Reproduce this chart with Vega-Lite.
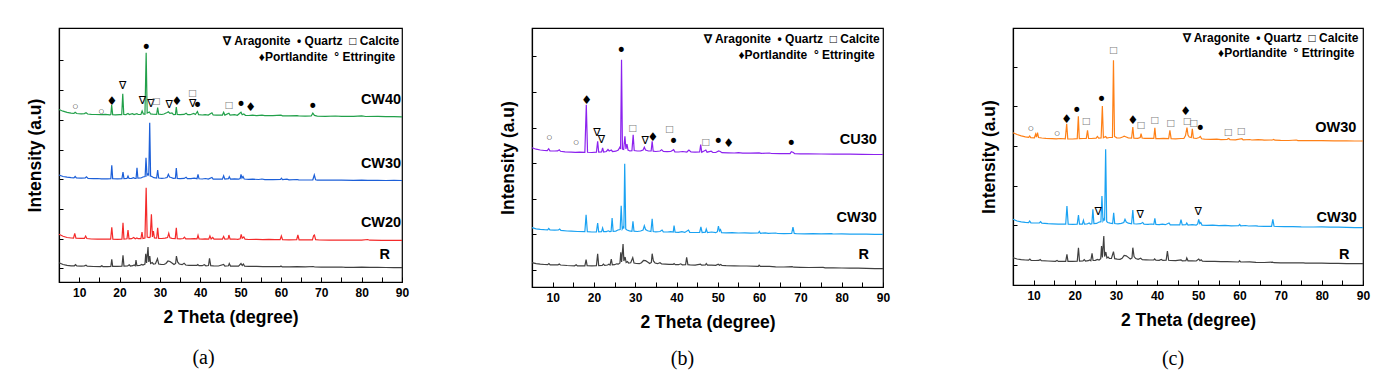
{
"$schema": "https://vega.github.io/schema/vega-lite/v6.json",
"background": "white",
"padding": {"left": 25, "top": 27, "right": 0, "bottom": 0},
"spacing": 88,
"config": {
 "view": {"stroke": "#000", "strokeWidth": 1.2},
 "axis": {"grid": false, "domainColor": "#000", "domainWidth": 1.2, "tickColor": "#000", "tickWidth": 1, "labelFont": "Liberation Sans", "labelFontWeight": "bold", "labelFontSize": 12, "labelColor": "#000", "titleFont": "Liberation Sans", "titleFontWeight": "bold", "titleFontSize": 17.5, "titleColor": "#000"},
 "text": {"font": "Liberation Sans"},
 "line": {"strokeWidth": 1.2}
},
"datasets": {
 "a_CW40": [{"x":5,"y":173.5},{"x":6,"y":171.8},{"x":7,"y":170.6},{"x":8,"y":169.8},{"x":8.7,"y":169.6},{"x":9,"y":170.8},{"x":9.4,"y":169.5},{"x":10.5,"y":169.2},{"x":11.3,"y":169.4},{"x":11.7,"y":170.3},{"x":12.1,"y":169},{"x":13,"y":168.7},{"x":14,"y":168.5},{"x":15.5,"y":168.3},{"x":16.5,"y":168.6},{"x":17.6,"y":168.2},{"x":17.85,"y":168.4},{"x":18.05,"y":178},{"x":18.3,"y":168.4},{"x":19,"y":168.2},{"x":20,"y":168.3},{"x":20.55,"y":168.4},{"x":20.8,"y":189.3},{"x":21.05,"y":168.6},{"x":21.6,"y":168.4},{"x":22.1,"y":169.6},{"x":22.4,"y":168.5},{"x":23.2,"y":169.3},{"x":23.6,"y":168.4},{"x":24.3,"y":169.4},{"x":24.6,"y":168.5},{"x":25.3,"y":168.6},{"x":25.6,"y":172},{"x":25.9,"y":169},{"x":26.3,"y":168.8},{"x":26.6,"y":230.3},{"x":26.85,"y":170},{"x":27.4,"y":171},{"x":27.7,"y":169},{"x":28.2,"y":168.8},{"x":29.2,"y":168.6},{"x":29.45,"y":175.5},{"x":29.7,"y":168.8},{"x":30.5,"y":168.5},{"x":31,"y":169},{"x":31.8,"y":170.5},{"x":32.1,"y":171.2},{"x":32.5,"y":169.6},{"x":33,"y":170},{"x":33.4,"y":168.4},{"x":33.85,"y":168.5},{"x":34.07,"y":176},{"x":34.3,"y":168.5},{"x":35,"y":168.3},{"x":36,"y":168.6},{"x":36.5,"y":169.8},{"x":36.9,"y":168.4},{"x":37.5,"y":168.3},{"x":38.4,"y":169.6},{"x":38.8,"y":168.5},{"x":39.3,"y":171.5},{"x":39.6,"y":168.4},{"x":40.5,"y":168},{"x":41.2,"y":168.4},{"x":42,"y":167.9},{"x":42.9,"y":170.2},{"x":43.2,"y":168},{"x":44,"y":167.8},{"x":45.5,"y":167.9},{"x":45.8,"y":170.8},{"x":46.1,"y":167.9},{"x":47.1,"y":169.8},{"x":47.4,"y":167.9},{"x":48.5,"y":168.3},{"x":49.2,"y":167.7},{"x":50.1,"y":170.8},{"x":50.4,"y":168.2},{"x":50.8,"y":169},{"x":51.2,"y":167.7},{"x":52,"y":167.5},{"x":53,"y":167.8},{"x":54,"y":167.4},{"x":55.3,"y":167.8},{"x":56,"y":167.3},{"x":58,"y":167.3},{"x":60,"y":167.8},{"x":60.4,"y":167.2},{"x":62,"y":167.1},{"x":64,"y":167.4},{"x":64.5,"y":167},{"x":66,"y":166.9},{"x":67.5,"y":167},{"x":67.9,"y":169.8},{"x":68.3,"y":167.6},{"x":69,"y":166.9},{"x":71,"y":166.7},{"x":73.5,"y":167},{"x":75,"y":166.6},{"x":78,"y":166.6},{"x":80,"y":167.1},{"x":81,"y":166.5},{"x":84,"y":166.6},{"x":86,"y":166.3},{"x":88,"y":166.3},{"x":90,"y":166.2}],
 "a_CW30": [{"x":5,"y":108},{"x":6,"y":106.5},{"x":7,"y":105.8},{"x":8,"y":105.3},{"x":8.7,"y":105.2},{"x":9,"y":106.5},{"x":9.3,"y":105},{"x":10.5,"y":104.8},{"x":11.5,"y":105},{"x":11.8,"y":106.2},{"x":12.2,"y":104.6},{"x":13.5,"y":104.3},{"x":14.5,"y":104.5},{"x":15.5,"y":104.2},{"x":17,"y":104.2},{"x":17.85,"y":104.3},{"x":18.08,"y":117.7},{"x":18.3,"y":104.4},{"x":19.5,"y":104.2},{"x":20.6,"y":104.3},{"x":20.86,"y":111},{"x":21.1,"y":104.4},{"x":21.85,"y":104.5},{"x":22.1,"y":107},{"x":22.35,"y":104.5},{"x":23,"y":104.6},{"x":23.5,"y":105.3},{"x":23.8,"y":104.5},{"x":24.1,"y":104.6},{"x":24.33,"y":115.3},{"x":24.55,"y":104.8},{"x":25.3,"y":105},{"x":25.8,"y":106},{"x":26.35,"y":106.5},{"x":26.56,"y":125.3},{"x":26.8,"y":107.5},{"x":27.05,"y":109},{"x":27.25,"y":108},{"x":27.48,"y":160.3},{"x":27.7,"y":107},{"x":28,"y":106.5},{"x":28.5,"y":105.3},{"x":29.2,"y":105},{"x":29.45,"y":113},{"x":29.7,"y":105},{"x":30.5,"y":104.6},{"x":31.3,"y":105},{"x":31.8,"y":105.5},{"x":32.1,"y":108.7},{"x":32.4,"y":106},{"x":32.8,"y":105.5},{"x":33.3,"y":104.6},{"x":33.85,"y":104.8},{"x":34.07,"y":115},{"x":34.3,"y":104.6},{"x":35,"y":104.3},{"x":36,"y":104.6},{"x":36.5,"y":105.8},{"x":36.8,"y":104.4},{"x":37.7,"y":104.3},{"x":38.5,"y":104.8},{"x":39.2,"y":104.3},{"x":39.45,"y":108.7},{"x":39.7,"y":104.2},{"x":40.5,"y":104},{"x":41.3,"y":104.5},{"x":42,"y":103.9},{"x":42.9,"y":105.5},{"x":43.2,"y":103.9},{"x":44,"y":103.8},{"x":45.5,"y":103.9},{"x":45.8,"y":107.3},{"x":46.1,"y":103.9},{"x":47,"y":104.3},{"x":47.2,"y":106.3},{"x":47.5,"y":103.8},{"x":48.5,"y":104.2},{"x":49.5,"y":103.8},{"x":49.9,"y":104.5},{"x":50.1,"y":108.7},{"x":50.35,"y":105},{"x":50.6,"y":106.5},{"x":50.9,"y":104},{"x":52,"y":103.6},{"x":53,"y":103.8},{"x":54.5,"y":103.5},{"x":55.3,"y":104},{"x":56,"y":103.4},{"x":58,"y":103.4},{"x":59.9,"y":103.5},{"x":60.1,"y":104.8},{"x":60.4,"y":103.3},{"x":61.5,"y":103.8},{"x":62,"y":103.2},{"x":64,"y":103.5},{"x":64.4,"y":103.1},{"x":66,"y":103},{"x":67.9,"y":103.2},{"x":68.27,"y":108},{"x":68.6,"y":103.2},{"x":69,"y":102.9},{"x":71,"y":102.8},{"x":73,"y":103},{"x":75,"y":102.8},{"x":78,"y":102.7},{"x":80,"y":102.9},{"x":81.5,"y":102.7},{"x":84,"y":102.7},{"x":86,"y":102.5},{"x":88,"y":102.6},{"x":90,"y":102.5}],
 "a_CW20": [{"x":5,"y":48.7},{"x":6,"y":46.8},{"x":7,"y":45.5},{"x":8,"y":45},{"x":8.6,"y":44.8},{"x":8.9,"y":49.7},{"x":9.2,"y":44.9},{"x":10.5,"y":44.6},{"x":11.3,"y":44.6},{"x":11.6,"y":47},{"x":11.9,"y":44.5},{"x":13,"y":44},{"x":14.5,"y":43.8},{"x":16,"y":43.9},{"x":17.8,"y":43.8},{"x":18.08,"y":55.7},{"x":18.35,"y":43.9},{"x":19.5,"y":43.7},{"x":20.6,"y":43.9},{"x":20.86,"y":60.3},{"x":21.1,"y":44},{"x":21.85,"y":44.2},{"x":22.1,"y":53},{"x":22.35,"y":44.2},{"x":23,"y":44.3},{"x":23.5,"y":45.5},{"x":23.9,"y":44.3},{"x":24.3,"y":45},{"x":24.6,"y":44.3},{"x":25.3,"y":44.4},{"x":25.57,"y":51},{"x":25.8,"y":44.5},{"x":26.3,"y":45},{"x":26.6,"y":95.3},{"x":26.85,"y":46},{"x":27.3,"y":45.5},{"x":27.6,"y":46},{"x":27.9,"y":68.7},{"x":28.15,"y":46},{"x":28.4,"y":52},{"x":28.65,"y":45},{"x":29.2,"y":44.8},{"x":29.45,"y":55.3},{"x":29.7,"y":44.6},{"x":30.5,"y":44.5},{"x":31.3,"y":44.8},{"x":31.9,"y":45.4},{"x":32.2,"y":49.7},{"x":32.5,"y":45.2},{"x":33,"y":44.6},{"x":33.8,"y":44.4},{"x":34.07,"y":55.3},{"x":34.3,"y":44.4},{"x":35,"y":44.2},{"x":35.8,"y":44.5},{"x":36.1,"y":45.8},{"x":36.4,"y":44.2},{"x":37.5,"y":44.2},{"x":38.5,"y":44.3},{"x":39.2,"y":44.1},{"x":39.45,"y":47.7},{"x":39.7,"y":44},{"x":40.5,"y":43.9},{"x":41.2,"y":44.2},{"x":42.1,"y":43.9},{"x":42.4,"y":47},{"x":42.7,"y":44},{"x":43.1,"y":45.5},{"x":43.4,"y":43.9},{"x":44.3,"y":43.8},{"x":45.5,"y":43.9},{"x":45.8,"y":46.5},{"x":46.1,"y":43.8},{"x":46.9,"y":44},{"x":47.1,"y":48},{"x":47.4,"y":43.8},{"x":48.5,"y":44},{"x":49.3,"y":43.7},{"x":49.9,"y":44.2},{"x":50.15,"y":48.7},{"x":50.4,"y":44.8},{"x":50.8,"y":46},{"x":51.1,"y":43.8},{"x":52,"y":43.5},{"x":54,"y":43.6},{"x":55.5,"y":43.4},{"x":57,"y":43.6},{"x":58.5,"y":43.3},{"x":59.8,"y":43.3},{"x":60.1,"y":47},{"x":60.4,"y":43.3},{"x":62,"y":43.2},{"x":63.9,"y":43.3},{"x":64.2,"y":48},{"x":64.5,"y":43.2},{"x":66,"y":43.1},{"x":67.8,"y":43.2},{"x":68.1,"y":47.4},{"x":68.3,"y":48},{"x":68.6,"y":43.3},{"x":69.5,"y":43},{"x":72,"y":42.9},{"x":75,"y":43},{"x":77,"y":42.8},{"x":80,"y":42.8},{"x":81.5,"y":43.5},{"x":82,"y":42.8},{"x":85,"y":42.7},{"x":88,"y":42.6},{"x":90,"y":42.6}],
 "a_R": [{"x":5,"y":20.3},{"x":6,"y":18.5},{"x":7,"y":17.6},{"x":8,"y":17.2},{"x":8.8,"y":17.2},{"x":9.1,"y":18.3},{"x":9.4,"y":17},{"x":10.5,"y":16.9},{"x":11.3,"y":17.1},{"x":11.7,"y":17.8},{"x":12,"y":16.8},{"x":13.5,"y":16.5},{"x":15.3,"y":16.4},{"x":15.6,"y":17.3},{"x":15.9,"y":16.4},{"x":17,"y":16.4},{"x":17.85,"y":16.6},{"x":18.08,"y":23.7},{"x":18.3,"y":16.7},{"x":19.5,"y":16.6},{"x":20.6,"y":16.8},{"x":20.86,"y":27.7},{"x":21.1,"y":16.9},{"x":22,"y":17},{"x":22.4,"y":18.2},{"x":22.7,"y":17},{"x":23.3,"y":17.3},{"x":23.6,"y":18},{"x":23.9,"y":17.2},{"x":24.08,"y":23},{"x":24.3,"y":17.3},{"x":25,"y":17.5},{"x":25.5,"y":18.5},{"x":25.8,"y":18},{"x":26.3,"y":19},{"x":26.5,"y":29.3},{"x":26.7,"y":20},{"x":27.06,"y":36},{"x":27.25,"y":21},{"x":27.5,"y":27},{"x":27.7,"y":19.5},{"x":28.1,"y":20.5},{"x":28.4,"y":19},{"x":28.9,"y":19.2},{"x":29.4,"y":24.3},{"x":29.7,"y":19},{"x":30.3,"y":18.6},{"x":31,"y":18.5},{"x":31.5,"y":19.5},{"x":32,"y":22},{"x":32.5,"y":21.5},{"x":33,"y":20},{"x":33.5,"y":18.5},{"x":33.9,"y":19.5},{"x":34.1,"y":27},{"x":34.4,"y":21},{"x":34.8,"y":19},{"x":35.5,"y":18.3},{"x":36,"y":19.8},{"x":36.4,"y":18},{"x":37.2,"y":17.7},{"x":38,"y":17.6},{"x":39.2,"y":17.7},{"x":39.4,"y":18.5},{"x":39.7,"y":17.4},{"x":40.5,"y":17.3},{"x":41,"y":18.2},{"x":41.4,"y":17.2},{"x":42.05,"y":17.5},{"x":42.3,"y":24.7},{"x":42.6,"y":17.4},{"x":43.3,"y":17.2},{"x":44.5,"y":17},{"x":45.8,"y":18.5},{"x":46.1,"y":16.9},{"x":47,"y":17.2},{"x":47.2,"y":19.5},{"x":47.5,"y":16.9},{"x":48.5,"y":17},{"x":49.5,"y":16.8},{"x":50.1,"y":19.5},{"x":50.4,"y":17.5},{"x":50.7,"y":19},{"x":51,"y":16.8},{"x":52,"y":16.6},{"x":54,"y":16.7},{"x":55.5,"y":16.4},{"x":57,"y":16.5},{"x":59.8,"y":16.3},{"x":60,"y":17},{"x":60.3,"y":16.2},{"x":62,"y":16.2},{"x":64,"y":16.3},{"x":66,"y":16.1},{"x":68,"y":16.5},{"x":68.4,"y":16},{"x":70,"y":15.9},{"x":72,"y":15.8},{"x":75,"y":16},{"x":76,"y":15.7},{"x":78,"y":15.7},{"x":80,"y":15.8},{"x":82,"y":15.6},{"x":84,"y":15.6},{"x":86,"y":15.5},{"x":88,"y":15.4},{"x":90,"y":15.3}],
 "b_CU30": [{"x":5,"y":139.3},{"x":6,"y":137.8},{"x":7,"y":137},{"x":8,"y":136.5},{"x":8.7,"y":136.4},{"x":9.04,"y":138.3},{"x":9.35,"y":136.2},{"x":10.5,"y":136},{"x":11.2,"y":136.1},{"x":11.6,"y":137.2},{"x":11.9,"y":135.7},{"x":13,"y":135.2},{"x":14.5,"y":134.8},{"x":15.5,"y":134.6},{"x":16.5,"y":134.8},{"x":17.8,"y":134.6},{"x":18.15,"y":182.3},{"x":18.45,"y":134.7},{"x":19.5,"y":134.5},{"x":20.6,"y":134.8},{"x":20.9,"y":145.7},{"x":21.15,"y":134.8},{"x":21.85,"y":135},{"x":22.1,"y":139},{"x":22.35,"y":135},{"x":23,"y":135.5},{"x":23.4,"y":137.5},{"x":23.7,"y":136},{"x":24.2,"y":137},{"x":24.5,"y":135.5},{"x":25.3,"y":135.8},{"x":25.9,"y":137},{"x":26.3,"y":140},{"x":26.45,"y":138},{"x":26.68,"y":227.3},{"x":26.9,"y":138},{"x":27.2,"y":137.5},{"x":27.5,"y":150.7},{"x":27.75,"y":138},{"x":28,"y":143},{"x":28.25,"y":137},{"x":28.7,"y":136},{"x":29.2,"y":136.3},{"x":29.5,"y":152.3},{"x":29.75,"y":136.5},{"x":30.5,"y":136},{"x":31.3,"y":136.2},{"x":31.9,"y":137},{"x":32.2,"y":139.7},{"x":32.5,"y":137},{"x":33.2,"y":136},{"x":33.85,"y":136},{"x":34.1,"y":145.7},{"x":34.35,"y":135.8},{"x":35,"y":135.5},{"x":36,"y":136},{"x":36.4,"y":137.3},{"x":36.8,"y":135.6},{"x":37.7,"y":135.3},{"x":38.6,"y":135.5},{"x":39.3,"y":137.3},{"x":39.6,"y":135.2},{"x":40.5,"y":135},{"x":41.5,"y":135.5},{"x":42.5,"y":135},{"x":43,"y":137},{"x":43.5,"y":135},{"x":44.5,"y":134.8},{"x":45.6,"y":135},{"x":45.85,"y":142.3},{"x":46.1,"y":134.8},{"x":47.1,"y":137},{"x":47.4,"y":134.8},{"x":48.4,"y":135.8},{"x":48.8,"y":134.6},{"x":49.5,"y":134.5},{"x":50.2,"y":136},{"x":50.6,"y":135.5},{"x":51,"y":134.3},{"x":52.5,"y":134.2},{"x":54,"y":134},{"x":55,"y":134.4},{"x":56,"y":133.8},{"x":58,"y":133.8},{"x":60,"y":134.2},{"x":60.5,"y":133.6},{"x":62.5,"y":134},{"x":63,"y":133.5},{"x":65,"y":133.4},{"x":67.5,"y":133.4},{"x":67.8,"y":135.3},{"x":68.3,"y":134.5},{"x":68.6,"y":133.4},{"x":70,"y":133.2},{"x":72,"y":133.1},{"x":75,"y":133},{"x":78,"y":132.9},{"x":80,"y":133},{"x":82,"y":132.8},{"x":85,"y":132.7},{"x":88,"y":132.5},{"x":90,"y":132.5}],
 "b_CW30": [{"x":5,"y":59.3},{"x":6,"y":58.2},{"x":7,"y":57.6},{"x":8,"y":57.3},{"x":8.8,"y":57.2},{"x":9.05,"y":58.5},{"x":9.35,"y":57},{"x":10.5,"y":56.8},{"x":11.4,"y":57},{"x":11.7,"y":58},{"x":12,"y":56.6},{"x":13.5,"y":56},{"x":14.5,"y":55.9},{"x":16,"y":55.5},{"x":17.8,"y":55.3},{"x":18.1,"y":72.3},{"x":18.4,"y":55.3},{"x":19.5,"y":55},{"x":20.6,"y":55.2},{"x":20.9,"y":64},{"x":21.15,"y":55.2},{"x":21.85,"y":55.3},{"x":22.1,"y":59},{"x":22.35,"y":55.3},{"x":23,"y":55.4},{"x":23.5,"y":56.2},{"x":23.8,"y":55.4},{"x":24.15,"y":55.5},{"x":24.4,"y":69},{"x":24.65,"y":55.7},{"x":25.3,"y":55.9},{"x":25.8,"y":57},{"x":26.35,"y":57.5},{"x":26.6,"y":81.3},{"x":26.85,"y":58},{"x":27.1,"y":60},{"x":27.25,"y":58.5},{"x":27.45,"y":123.3},{"x":27.7,"y":58},{"x":28,"y":57},{"x":28.6,"y":56.2},{"x":29.2,"y":55.8},{"x":29.45,"y":65.7},{"x":29.7,"y":55.8},{"x":30.5,"y":55.5},{"x":31.3,"y":56},{"x":31.9,"y":57},{"x":32.2,"y":61.3},{"x":32.5,"y":57.5},{"x":33,"y":56.2},{"x":33.8,"y":55.5},{"x":34.1,"y":68.3},{"x":34.35,"y":55.5},{"x":35,"y":55.2},{"x":36,"y":55.5},{"x":36.5,"y":57},{"x":36.8,"y":55.2},{"x":37.8,"y":55},{"x":38.6,"y":55.4},{"x":39.2,"y":55},{"x":39.4,"y":61.3},{"x":39.65,"y":54.9},{"x":40.5,"y":54.7},{"x":41.3,"y":55.3},{"x":42,"y":54.6},{"x":42.9,"y":57},{"x":43.2,"y":54.6},{"x":44,"y":54.5},{"x":45.6,"y":54.6},{"x":45.9,"y":60},{"x":46.2,"y":54.5},{"x":47,"y":54.8},{"x":47.2,"y":58},{"x":47.5,"y":54.4},{"x":48.5,"y":55},{"x":49.5,"y":54.3},{"x":49.9,"y":55.3},{"x":50.15,"y":61},{"x":50.4,"y":56},{"x":50.65,"y":57.5},{"x":50.9,"y":54.4},{"x":52,"y":54.1},{"x":53.5,"y":54.4},{"x":55,"y":54},{"x":56.5,"y":54.2},{"x":58,"y":53.8},{"x":59.8,"y":54},{"x":60.05,"y":55.5},{"x":60.3,"y":53.7},{"x":61.5,"y":54.2},{"x":62.2,"y":53.6},{"x":64,"y":54},{"x":64.5,"y":53.5},{"x":66,"y":53.4},{"x":67.9,"y":53.6},{"x":68.2,"y":60},{"x":68.5,"y":53.6},{"x":69,"y":53.3},{"x":71,"y":53.2},{"x":73,"y":53.3},{"x":75,"y":53.1},{"x":77.5,"y":53.3},{"x":78,"y":53},{"x":80,"y":53.1},{"x":82,"y":52.9},{"x":84,"y":53},{"x":86,"y":52.8},{"x":88,"y":52.7},{"x":90,"y":52.7}],
 "b_R": [{"x":5,"y":24.3},{"x":6,"y":23.3},{"x":7,"y":22.8},{"x":8,"y":22.5},{"x":8.8,"y":22.4},{"x":9.1,"y":23.5},{"x":9.4,"y":22.2},{"x":10.5,"y":22.1},{"x":11.3,"y":22.2},{"x":11.6,"y":23},{"x":11.9,"y":22},{"x":13.5,"y":21.5},{"x":15.3,"y":21.2},{"x":15.7,"y":22.2},{"x":16,"y":21.1},{"x":17.8,"y":21.2},{"x":18.1,"y":27.3},{"x":18.35,"y":21.3},{"x":19.5,"y":21.2},{"x":20.6,"y":21.4},{"x":20.9,"y":33.3},{"x":21.15,"y":21.5},{"x":22,"y":21.7},{"x":22.3,"y":23},{"x":22.6,"y":21.7},{"x":23.3,"y":22},{"x":23.6,"y":22.7},{"x":23.9,"y":22},{"x":24.2,"y":28},{"x":24.45,"y":22.2},{"x":25,"y":22.3},{"x":25.5,"y":23.2},{"x":25.9,"y":22.8},{"x":26.3,"y":24},{"x":26.5,"y":34.7},{"x":26.7,"y":25},{"x":27.05,"y":43},{"x":27.25,"y":26},{"x":27.55,"y":30},{"x":27.8,"y":24.5},{"x":28.1,"y":25.5},{"x":28.4,"y":24},{"x":28.9,"y":24.2},{"x":29.4,"y":29.3},{"x":29.7,"y":24},{"x":30.3,"y":23.5},{"x":31,"y":23.3},{"x":31.5,"y":24.3},{"x":32,"y":26.5},{"x":32.5,"y":26.3},{"x":33,"y":25},{"x":33.5,"y":23.5},{"x":33.9,"y":24.5},{"x":34.1,"y":33.3},{"x":34.4,"y":26},{"x":34.8,"y":24},{"x":35.4,"y":23.3},{"x":36,"y":24.3},{"x":36.4,"y":23},{"x":37.3,"y":22.8},{"x":38.2,"y":22.6},{"x":39.2,"y":22.6},{"x":39.4,"y":23.5},{"x":39.7,"y":22.4},{"x":40.5,"y":22.3},{"x":41,"y":23.2},{"x":41.4,"y":22.2},{"x":42.2,"y":22.4},{"x":42.45,"y":29.7},{"x":42.75,"y":22.3},{"x":43.3,"y":22.1},{"x":44.5,"y":21.9},{"x":45.8,"y":22.8},{"x":46.1,"y":21.8},{"x":47,"y":22},{"x":47.2,"y":23.5},{"x":47.5,"y":21.8},{"x":48.5,"y":21.8},{"x":49.5,"y":21.6},{"x":50.1,"y":22.8},{"x":50.4,"y":21.8},{"x":50.7,"y":22.5},{"x":51,"y":21.5},{"x":52,"y":21.3},{"x":54,"y":21.2},{"x":55.5,"y":21},{"x":57,"y":21},{"x":59.8,"y":20.6},{"x":60,"y":21.8},{"x":60.3,"y":20.6},{"x":62.5,"y":20.7},{"x":64,"y":20.2},{"x":66,"y":20},{"x":68,"y":20.3},{"x":68.4,"y":19.8},{"x":70,"y":19.6},{"x":72,"y":19.5},{"x":75.5,"y":19.6},{"x":76,"y":19.2},{"x":78,"y":19.1},{"x":80,"y":19},{"x":82,"y":18.9},{"x":84,"y":18.8},{"x":86,"y":18.6},{"x":88,"y":18.4},{"x":90,"y":18.3}],
 "c_OW30": [{"x":5,"y":152.3},{"x":6,"y":150.5},{"x":7,"y":149.2},{"x":8,"y":148.2},{"x":8.8,"y":147.6},{"x":9.05,"y":149},{"x":9.3,"y":147.4},{"x":10.2,"y":147.2},{"x":10.5,"y":151},{"x":10.7,"y":148},{"x":10.95,"y":152.3},{"x":11.2,"y":147.5},{"x":12,"y":147},{"x":13,"y":146.6},{"x":14.5,"y":146.4},{"x":15.5,"y":146.2},{"x":16.5,"y":146.5},{"x":17.7,"y":146.2},{"x":18.04,"y":161.3},{"x":18.3,"y":146.2},{"x":19.5,"y":146},{"x":20.6,"y":146.3},{"x":20.87,"y":168.7},{"x":21.1,"y":146.3},{"x":22,"y":146.5},{"x":22.8,"y":146.6},{"x":23.1,"y":154.7},{"x":23.35,"y":146.6},{"x":24,"y":146.5},{"x":25.2,"y":146.8},{"x":25.5,"y":148.5},{"x":25.8,"y":146.8},{"x":26.4,"y":147},{"x":26.7,"y":179},{"x":26.95,"y":147.3},{"x":27.5,"y":148.5},{"x":27.8,"y":147},{"x":28.4,"y":147.5},{"x":29.15,"y":147.5},{"x":29.4,"y":224.7},{"x":29.65,"y":148.5},{"x":30.2,"y":147.2},{"x":31,"y":147},{"x":31.6,"y":148},{"x":32,"y":148.8},{"x":32.5,"y":148},{"x":33,"y":147.2},{"x":33.8,"y":146.8},{"x":34.1,"y":158},{"x":34.35,"y":146.8},{"x":35.3,"y":146.7},{"x":35.9,"y":147.5},{"x":36.1,"y":151.3},{"x":36.35,"y":147},{"x":37,"y":146.6},{"x":38,"y":146.6},{"x":39.2,"y":146.6},{"x":39.45,"y":157.3},{"x":39.7,"y":146.4},{"x":40.5,"y":146.3},{"x":41.5,"y":146.6},{"x":42.8,"y":146.3},{"x":43.1,"y":154.7},{"x":43.4,"y":146.3},{"x":44.5,"y":146.1},{"x":45.8,"y":146.5},{"x":46.5,"y":146.5},{"x":46.9,"y":149.5},{"x":47.25,"y":157.3},{"x":47.5,"y":150},{"x":47.8,"y":148},{"x":48.3,"y":147.5},{"x":48.55,"y":156.3},{"x":48.8,"y":147},{"x":49.5,"y":146.5},{"x":50.2,"y":147.5},{"x":50.5,"y":148.5},{"x":50.8,"y":146.2},{"x":51.5,"y":145.8},{"x":53,"y":145.6},{"x":54.5,"y":145.8},{"x":55.5,"y":145.4},{"x":57,"y":145.7},{"x":57.4,"y":146.5},{"x":57.7,"y":145.3},{"x":59,"y":145.2},{"x":60.6,"y":146.3},{"x":60.9,"y":145.1},{"x":62.5,"y":145.5},{"x":63,"y":145},{"x":64.5,"y":145.3},{"x":65.5,"y":145.2},{"x":66,"y":144.8},{"x":68,"y":145},{"x":68.3,"y":145.6},{"x":68.6,"y":144.8},{"x":70,"y":144.6},{"x":72,"y":144.5},{"x":73.8,"y":145},{"x":74.2,"y":144.4},{"x":77,"y":144.3},{"x":80,"y":144.3},{"x":83,"y":144.2},{"x":86,"y":144.1},{"x":88,"y":144},{"x":90,"y":144}],
 "c_CW30": [{"x":5,"y":65.7},{"x":6,"y":64},{"x":7,"y":63.2},{"x":8,"y":62.6},{"x":8.8,"y":62.4},{"x":9.05,"y":64},{"x":9.35,"y":62.2},{"x":10.5,"y":62},{"x":11.4,"y":62.1},{"x":11.7,"y":63.3},{"x":12,"y":61.8},{"x":13.5,"y":61.3},{"x":14.5,"y":61.2},{"x":16,"y":60.9},{"x":17.8,"y":60.8},{"x":18.1,"y":79},{"x":18.4,"y":60.8},{"x":19.5,"y":60.6},{"x":20.6,"y":60.8},{"x":20.9,"y":70},{"x":21.15,"y":60.8},{"x":21.85,"y":60.9},{"x":22.1,"y":64.7},{"x":22.35,"y":60.9},{"x":23,"y":61},{"x":23.5,"y":62},{"x":23.8,"y":61},{"x":24.15,"y":61.2},{"x":24.4,"y":75.7},{"x":24.65,"y":61.4},{"x":25.3,"y":61.6},{"x":25.8,"y":62.8},{"x":26.35,"y":63.3},{"x":26.6,"y":89},{"x":26.85,"y":64},{"x":27.1,"y":66},{"x":27.25,"y":64.5},{"x":27.5,"y":135.7},{"x":27.75,"y":63.5},{"x":28,"y":62.5},{"x":28.6,"y":61.8},{"x":29.2,"y":61.5},{"x":29.45,"y":72.3},{"x":29.7,"y":61.5},{"x":30.5,"y":61.2},{"x":31.3,"y":61.6},{"x":31.9,"y":62.5},{"x":32.2,"y":65.7},{"x":32.5,"y":63},{"x":33,"y":61.8},{"x":33.8,"y":61.2},{"x":34.1,"y":75},{"x":34.35,"y":61.2},{"x":35,"y":61},{"x":36,"y":61.3},{"x":36.5,"y":62.5},{"x":36.8,"y":60.9},{"x":37.8,"y":60.7},{"x":38.6,"y":61},{"x":39.2,"y":60.6},{"x":39.45,"y":66.7},{"x":39.7,"y":60.5},{"x":40.5,"y":60.3},{"x":41.3,"y":60.9},{"x":42,"y":60.3},{"x":42.9,"y":62},{"x":43.2,"y":60.2},{"x":44,"y":60.1},{"x":45.5,"y":60.2},{"x":45.8,"y":65.3},{"x":46.1,"y":60.1},{"x":47,"y":60.4},{"x":47.2,"y":62},{"x":47.5,"y":60},{"x":48.5,"y":60.4},{"x":49.5,"y":59.8},{"x":49.85,"y":61},{"x":50.1,"y":65.7},{"x":50.35,"y":61.5},{"x":50.6,"y":62.5},{"x":50.9,"y":59.9},{"x":52,"y":59.6},{"x":53.5,"y":59.8},{"x":55,"y":59.4},{"x":56.5,"y":59.6},{"x":58,"y":59.2},{"x":59.8,"y":59.3},{"x":60.05,"y":60.5},{"x":60.3,"y":59.1},{"x":61.5,"y":59.5},{"x":62.2,"y":59},{"x":64,"y":59.2},{"x":64.5,"y":58.8},{"x":66,"y":58.7},{"x":67.8,"y":58.7},{"x":68.1,"y":65.7},{"x":68.4,"y":58.7},{"x":69,"y":58.5},{"x":71,"y":58.3},{"x":73,"y":58.4},{"x":75,"y":58.1},{"x":78,"y":58},{"x":80,"y":58.1},{"x":82,"y":57.8},{"x":84,"y":57.8},{"x":86,"y":57.6},{"x":88,"y":57.4},{"x":90,"y":57.3}],
 "c_R": [{"x":5,"y":27.3},{"x":6,"y":26},{"x":7,"y":25.3},{"x":8,"y":25},{"x":8.8,"y":24.8},{"x":9.1,"y":26},{"x":9.4,"y":24.6},{"x":10.5,"y":24.5},{"x":11.3,"y":24.6},{"x":11.6,"y":25.4},{"x":11.9,"y":24.4},{"x":13.5,"y":24},{"x":15.3,"y":23.7},{"x":15.7,"y":24.6},{"x":16,"y":23.6},{"x":17.8,"y":23.6},{"x":18.1,"y":30.7},{"x":18.35,"y":23.7},{"x":19.5,"y":23.6},{"x":20.6,"y":23.8},{"x":20.9,"y":37.3},{"x":21.15,"y":23.9},{"x":22,"y":24},{"x":22.3,"y":25.3},{"x":22.6,"y":24},{"x":23.3,"y":24.3},{"x":23.6,"y":25},{"x":23.9,"y":24.3},{"x":24.2,"y":31.7},{"x":24.45,"y":24.5},{"x":25,"y":24.6},{"x":25.5,"y":25.5},{"x":25.9,"y":25},{"x":26.3,"y":26.3},{"x":26.5,"y":39},{"x":26.7,"y":27.5},{"x":27.05,"y":49},{"x":27.25,"y":28.5},{"x":27.55,"y":33},{"x":27.8,"y":27},{"x":28.1,"y":28},{"x":28.4,"y":26.5},{"x":28.9,"y":26.6},{"x":29.4,"y":33.3},{"x":29.7,"y":26.3},{"x":30.3,"y":25.8},{"x":31,"y":25.6},{"x":31.5,"y":26.6},{"x":32,"y":29.5},{"x":32.5,"y":29.2},{"x":33,"y":27.6},{"x":33.5,"y":26},{"x":33.9,"y":27},{"x":34.1,"y":37.3},{"x":34.4,"y":28.5},{"x":34.8,"y":26.4},{"x":35.4,"y":25.7},{"x":36,"y":26.8},{"x":36.4,"y":25.4},{"x":37.3,"y":25.2},{"x":38.2,"y":25},{"x":39.2,"y":25},{"x":39.4,"y":26},{"x":39.7,"y":24.8},{"x":40.5,"y":24.7},{"x":41,"y":25.6},{"x":41.4,"y":24.6},{"x":42.2,"y":24.8},{"x":42.5,"y":34},{"x":42.8,"y":24.7},{"x":43.3,"y":24.5},{"x":44.5,"y":24.3},{"x":45.8,"y":25.2},{"x":46.1,"y":24.2},{"x":47,"y":24.4},{"x":47.2,"y":27},{"x":47.5,"y":24.2},{"x":48.5,"y":24.2},{"x":49.5,"y":24},{"x":50.1,"y":26},{"x":50.4,"y":24.3},{"x":50.7,"y":25.2},{"x":51,"y":23.9},{"x":52,"y":23.7},{"x":54,"y":23.6},{"x":55.5,"y":23.4},{"x":57,"y":23.4},{"x":59.8,"y":23},{"x":60,"y":24.2},{"x":60.3,"y":23},{"x":62.5,"y":23.1},{"x":64,"y":22.7},{"x":66,"y":22.5},{"x":68,"y":22.8},{"x":68.4,"y":22.3},{"x":70,"y":22.2},{"x":72,"y":22.1},{"x":75.5,"y":22.2},{"x":76,"y":21.9},{"x":78,"y":21.8},{"x":80,"y":21.8},{"x":82,"y":21.6},{"x":84,"y":21.6},{"x":86,"y":21.4},{"x":88,"y":21.3},{"x":90,"y":21.3}],
 "a_marks": [{"k":"Ettringite","g":"○","x":9.04,"y":177},{"k":"Ettringite","g":"○","x":15.5,"y":172},{"k":"Portlandite","g":"♦","x":18.1,"y":182.3},{"k":"Aragonite","g":"∇","x":20.8,"y":197},{"k":"Aragonite","g":"∇","x":25.7,"y":182},{"k":"Aragonite","g":"∇","x":27.8,"y":178.7},{"k":"Calcite","g":"□","x":29.1,"y":182},{"k":"Quartz","g":"•","x":26.6,"y":235},{"k":"Aragonite","g":"∇","x":32.3,"y":177.7},{"k":"Portlandite","g":"♦","x":34.2,"y":182.3},{"k":"Calcite","g":"□","x":38.1,"y":190.3},{"k":"Aragonite","g":"∇","x":38.1,"y":178.7},{"k":"Quartz","g":"•","x":39.3,"y":177},{"k":"Calcite","g":"□","x":47.1,"y":177.7},{"k":"Quartz","g":"•","x":50.1,"y":177.7},{"k":"Portlandite","g":"♦","x":52.5,"y":176},{"k":"Quartz","g":"•","x":67.9,"y":175.7}],
 "b_marks": [{"k":"Ettringite","g":"○","x":9.2,"y":150},{"k":"Ettringite","g":"○","x":15.7,"y":145},{"k":"Portlandite","g":"♦","x":18.2,"y":187},{"k":"Quartz","g":"•","x":26.6,"y":236},{"k":"Aragonite","g":"∇","x":20.7,"y":153.7},{"k":"Aragonite","g":"∇","x":21.8,"y":147.3},{"k":"Calcite","g":"□","x":29.4,"y":159.3},{"k":"Aragonite","g":"∇","x":32.4,"y":145.7},{"k":"Portlandite","g":"♦","x":34.3,"y":150.3},{"k":"Calcite","g":"□","x":38.3,"y":158.3},{"k":"Quartz","g":"•","x":39.3,"y":144.7},{"k":"Calcite","g":"□","x":47.1,"y":145},{"k":"Quartz","g":"•","x":50.1,"y":145.3},{"k":"Portlandite","g":"♦","x":52.6,"y":143.7},{"k":"Quartz","g":"•","x":67.8,"y":143.3}],
 "c_marks": [{"k":"Ettringite","g":"○","x":9.37,"y":157.3},{"k":"Ettringite","g":"○","x":15.7,"y":151.7},{"k":"Portlandite","g":"♦","x":18,"y":166.3},{"k":"Quartz","g":"•","x":20.5,"y":174},{"k":"Calcite","g":"□","x":22.8,"y":164},{"k":"Quartz","g":"•","x":26.5,"y":184.7},{"k":"Calcite","g":"□","x":29.4,"y":234.7},{"k":"Portlandite","g":"♦","x":34.1,"y":165},{"k":"Calcite","g":"□","x":36.1,"y":160},{"k":"Calcite","g":"□","x":39.4,"y":165.3},{"k":"Calcite","g":"□","x":43.3,"y":161.7},{"k":"Portlandite","g":"♦","x":46.9,"y":173.7},{"k":"Calcite","g":"□","x":47.3,"y":163.7},{"k":"Calcite","g":"□","x":48.9,"y":161.7},{"k":"Quartz","g":"•","x":50.5,"y":155.7},{"k":"Calcite","g":"□","x":57.3,"y":153.3},{"k":"Calcite","g":"□","x":60.4,"y":153.7},{"k":"Aragonite","g":"∇","x":25.7,"y":73},{"k":"Aragonite","g":"∇","x":35.9,"y":69.7},{"k":"Aragonite","g":"∇","x":50,"y":73.3}],
 "a_labels": [{"t":"CW40","x":89.8,"y":183},{"t":"CW30","x":89.8,"y":118.7},{"t":"CW20","x":89.8,"y":60.3},{"t":"R","x":87,"y":27.7}],
 "b_labels": [{"t":"CU30","x":88.5,"y":146.7},{"t":"CW30","x":88.5,"y":69.3},{"t":"R","x":86.6,"y":31.7}],
 "c_labels": [{"t":"OW30","x":88.4,"y":156.7},{"t":"CW30","x":88.5,"y":67.3},{"t":"R","x":86.7,"y":29.7}],
 "a_legend": [{"t":"∇ Aragonite\u00a0\u00a0• Quartz\u00a0\u00a0□ Calcite","x":89.3,"y":242},{"t":"♦Portlandite\u00a0\u00a0° Ettringite","x":88.3,"y":226.3}],
 "b_legend": [{"t":"∇ Aragonite\u00a0\u00a0• Quartz\u00a0\u00a0□ Calcite","x":89.2,"y":247.7},{"t":"♦Portlandite\u00a0\u00a0° Ettringite","x":88,"y":232}],
 "c_legend": [{"t":"∇ Aragonite\u00a0\u00a0• Quartz\u00a0\u00a0□ Calcite","x":88.9,"y":247.3},{"t":"♦Portlandite\u00a0\u00a0° Ettringite","x":87.9,"y":231.7}]
},
"hconcat": [
 {
  "width": 343, "height": 254,
  "title": {"text": "(a)", "orient": "bottom", "font": "Liberation Serif", "fontSize": 20, "fontWeight": "normal", "color": "#000", "anchor": "middle", "frame": "group", "dx": -27, "offset": 22},
  "encoding": {
   "x": {"field": "x", "type": "quantitative", "scale": {"domain": [5, 90], "nice": false, "zero": false}, "axis": {"title": "2 Theta (degree)", "values": [5,10,15,20,25,30,35,40,45,50,55,60,65,70,75,80,85,90], "labelExpr": "datum.value % 10 === 0 ? datum.label : ''", "tickSize": -5, "labelPadding": 10, "titlePadding": 10, "labelFlush": false, "labelOverlap": false, "encode": {"ticks": {"update": {"y2": {"signal": "datum.value % 10 === 0 ? -5 : -3"}}}}}},
   "y": {"field": "y", "type": "quantitative", "scale": {"domain": [1, 255], "nice": false, "zero": false}, "axis": {"title": "Intensity (a.u)", "values": [222.7,192.7,163,133.3,103.7,74,44.3,14.7], "labels": false, "tickSize": -4, "titlePadding": 14}}
  },
  "layer": [
   {"data": {"name": "a_R"}, "mark": {"type": "line", "color": "#404040"}},
   {"data": {"name": "a_CW20"}, "mark": {"type": "line", "color": "#f42a2a"}},
   {"data": {"name": "a_CW30"}, "mark": {"type": "line", "color": "#1c5fd8"}},
   {"data": {"name": "a_CW40"}, "mark": {"type": "line", "color": "#22a04a"}},
   {"data": {"name": "a_marks"}, "mark": {"type": "text", "font": "DejaVu Sans", "baseline": "middle", "align": "center"},
    "encoding": {"text": {"field": "g"}, "color": {"field": "k", "type": "nominal", "scale": {"domain": ["Aragonite","Quartz","Calcite","Portlandite","Ettringite"], "range": ["#000","#000","#808080","#000","#000"]}, "legend": null}, "size": {"field": "k", "type": "nominal", "scale": {"type": "ordinal", "domain": ["Aragonite","Quartz","Calcite","Portlandite","Ettringite"], "range": [11,17,9.5,12,6]}, "legend": null}}},
   {"data": {"name": "a_labels"}, "mark": {"type": "text", "fontWeight": "bold", "fontSize": 14.5, "align": "right", "baseline": "middle", "color": "#000"}, "encoding": {"text": {"field": "t"}}},
   {"data": {"name": "a_legend"}, "mark": {"type": "text", "fontWeight": "bold", "fontSize": 12, "align": "right", "baseline": "middle", "color": "#000"}, "encoding": {"text": {"field": "t"}}}
  ]
 },
 {
  "width": 351, "height": 259,
  "title": {"text": "(b)", "orient": "bottom", "font": "Liberation Serif", "fontSize": 20, "fontWeight": "normal", "color": "#000", "anchor": "middle", "frame": "group", "dx": -25, "offset": 18},
  "encoding": {
   "x": {"field": "x", "type": "quantitative", "scale": {"domain": [5, 90], "nice": false, "zero": false}, "axis": {"title": "2 Theta (degree)", "values": [5,10,15,20,25,30,35,40,45,50,55,60,65,70,75,80,85,90], "labelExpr": "datum.value % 10 === 0 ? datum.label : ''", "tickSize": -5, "labelPadding": 10, "titlePadding": 10, "labelFlush": false, "labelOverlap": false, "encode": {"ticks": {"update": {"y2": {"signal": "datum.value % 10 === 0 ? -5 : -3"}}}}}},
   "y": {"field": "y", "type": "quantitative", "scale": {"domain": [0, 259], "nice": false, "zero": false}, "axis": {"title": "Intensity (a.u)", "values": [230.7,195,159.3,124,88.3,53,17.3], "labels": false, "tickSize": -4, "titlePadding": 14}}
  },
  "layer": [
   {"data": {"name": "b_R"}, "mark": {"type": "line", "color": "#404040"}},
   {"data": {"name": "b_CW30"}, "mark": {"type": "line", "color": "#1aa2f2"}},
   {"data": {"name": "b_CU30"}, "mark": {"type": "line", "color": "#8c22ee"}},
   {"data": {"name": "b_marks"}, "mark": {"type": "text", "font": "DejaVu Sans", "baseline": "middle", "align": "center"},
    "encoding": {"text": {"field": "g"}, "color": {"field": "k", "type": "nominal", "scale": {"domain": ["Aragonite","Quartz","Calcite","Portlandite","Ettringite"], "range": ["#000","#000","#808080","#000","#000"]}, "legend": null}, "size": {"field": "k", "type": "nominal", "scale": {"type": "ordinal", "domain": ["Aragonite","Quartz","Calcite","Portlandite","Ettringite"], "range": [11,17,9.5,12,6]}, "legend": null}}},
   {"data": {"name": "b_labels"}, "mark": {"type": "text", "fontWeight": "bold", "fontSize": 14.5, "align": "right", "baseline": "middle", "color": "#000"}, "encoding": {"text": {"field": "t"}}},
   {"data": {"name": "b_legend"}, "mark": {"type": "text", "fontWeight": "bold", "fontSize": 12, "align": "right", "baseline": "middle", "color": "#000"}, "encoding": {"text": {"field": "t"}}}
  ]
 },
 {
  "width": 350, "height": 257,
  "title": {"text": "(c)", "orient": "bottom", "font": "Liberation Serif", "fontSize": 20, "fontWeight": "normal", "color": "#000", "anchor": "middle", "frame": "group", "dx": -15, "offset": 20},
  "encoding": {
   "x": {"field": "x", "type": "quantitative", "scale": {"domain": [5, 90], "nice": false, "zero": false}, "axis": {"title": "2 Theta (degree)", "values": [5,10,15,20,25,30,35,40,45,50,55,60,65,70,75,80,85,90], "labelExpr": "datum.value % 10 === 0 ? datum.label : ''", "tickSize": -5, "labelPadding": 10, "titlePadding": 10, "labelFlush": false, "labelOverlap": false, "encode": {"ticks": {"update": {"y2": {"signal": "datum.value % 10 === 0 ? -5 : -3"}}}}}},
   "y": {"field": "y", "type": "quantitative", "scale": {"domain": [0, 257], "nice": false, "zero": false}, "axis": {"title": "Intensity (a.u)", "values": [218.3,178.7,139.3,99.3,60,20.3], "labels": false, "tickSize": -4, "titlePadding": 14}}
  },
  "layer": [
   {"data": {"name": "c_R"}, "mark": {"type": "line", "color": "#404040"}},
   {"data": {"name": "c_CW30"}, "mark": {"type": "line", "color": "#1aa2f2"}},
   {"data": {"name": "c_OW30"}, "mark": {"type": "line", "color": "#ff8016"}},
   {"data": {"name": "c_marks"}, "mark": {"type": "text", "font": "DejaVu Sans", "baseline": "middle", "align": "center"},
    "encoding": {"text": {"field": "g"}, "color": {"field": "k", "type": "nominal", "scale": {"domain": ["Aragonite","Quartz","Calcite","Portlandite","Ettringite"], "range": ["#000","#000","#808080","#000","#000"]}, "legend": null}, "size": {"field": "k", "type": "nominal", "scale": {"type": "ordinal", "domain": ["Aragonite","Quartz","Calcite","Portlandite","Ettringite"], "range": [11,17,9.5,12,6]}, "legend": null}}},
   {"data": {"name": "c_labels"}, "mark": {"type": "text", "fontWeight": "bold", "fontSize": 14.5, "align": "right", "baseline": "middle", "color": "#000"}, "encoding": {"text": {"field": "t"}}},
   {"data": {"name": "c_legend"}, "mark": {"type": "text", "fontWeight": "bold", "fontSize": 12, "align": "right", "baseline": "middle", "color": "#000"}, "encoding": {"text": {"field": "t"}}}
  ]
 }
]
}
